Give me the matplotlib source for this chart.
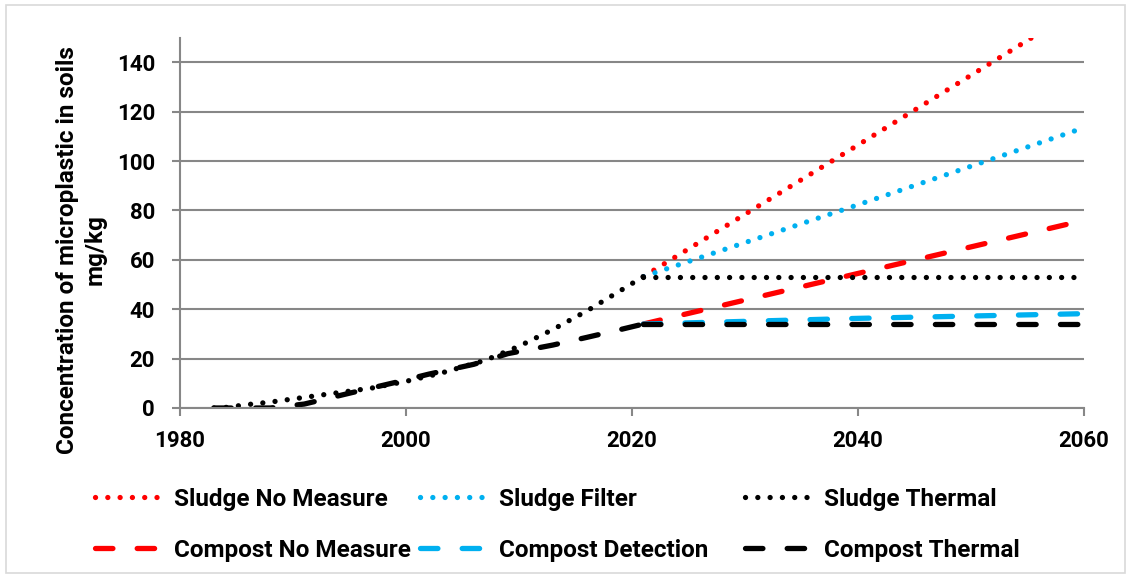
import matplotlib
matplotlib.use("Agg")
import matplotlib.pyplot as plt
from matplotlib.patches import Rectangle

# ---- data ----
sludge_hist_years = [1983, 1984, 1986, 1988, 1991, 1994, 1997, 2000, 2003, 2007, 2010, 2013, 2016, 2019, 2021]
sludge_hist = [0, 0.2, 1.4, 2.4, 4.3, 6.2, 8.1, 10.8, 14.0, 19.3, 25.0, 31.8, 39.3, 47.6, 53.2]

compost_hist_years = [1983, 1988, 1991, 1995, 1999, 2002, 2006, 2009, 2013, 2016, 2019, 2021]
compost_hist = [0, 0, 1.6, 6.0, 10.3, 13.7, 17.7, 22.0, 25.5, 28.6, 31.8, 34.0]

future_years = [2021, 2040, 2060]
sludge_no_measure = [53.2, 106.5, 163.0]
sludge_filter = [53.2, 82.3, 113.5]
sludge_thermal = [53.2, 53.2, 53.2]
compost_no_measure = [34.0, 54.5, 76.0]
compost_detection = [34.0, 36.3, 38.2]
compost_thermal = [34.0, 34.0, 34.0]

x_ticks = [1980, 2000, 2020, 2040, 2060]
y_ticks = [0, 20, 40, 60, 80, 100, 120, 140]

RED = "#FF0000"
BLUE = "#00B0F0"
BLACK = "#000000"
GRID = "#878787"

FONT = ["Roboto", "DejaVu Sans"]
plt.rcParams["font.family"] = FONT
plt.rcParams["font.weight"] = "bold"

fig = plt.figure(figsize=(11.31, 5.78), dpi=100)
W, H = 1131, 578
ax = fig.add_axes([180 / W, 1 - 408 / H, (1084 - 180) / W, (408 - 37.6) / H])

LW = 3.8
DOT = (0, (0.01, 2.32))
DASH = (0, (3.3, 4.6))

def dotted(x, y, c, label=None):
    return ax.plot(x, y, color=c, lw=LW, linestyle=DOT, dash_capstyle="round",
                   label=label)[0]

def dashed(x, y, c, label=None):
    return ax.plot(x, y, color=c, lw=LW, linestyle=DASH, dash_capstyle="round",
                   label=label)[0]

h_snm = dotted(future_years, sludge_no_measure, RED, "Sludge No Measure")
h_sf = dotted(future_years, sludge_filter, BLUE, "Sludge Filter")
h_cnm = dashed(future_years, compost_no_measure, RED, "Compost No Measure")
h_cd = dashed(future_years, compost_detection, BLUE, "Compost Detection")
h_ct = dashed(future_years, compost_thermal, BLACK, "Compost Thermal")
dashed(compost_hist_years, compost_hist, BLACK)
dotted(sludge_hist_years, sludge_hist, BLACK)
h_st = dotted(future_years, sludge_thermal, BLACK, "Sludge Thermal")

ax.set_xlim(1980, 2060)
ax.set_ylim(0, 150)
ax.set_xticks(x_ticks)
ax.set_yticks(y_ticks)
ax.grid(axis="y", color=GRID, lw=1.5)
ax.set_axisbelow(True)
for s in ["top", "right"]:
    ax.spines[s].set_visible(False)
for s in ["left", "bottom"]:
    ax.spines[s].set_color(GRID)
    ax.spines[s].set_linewidth(1.5)
ax.tick_params(axis="both", colors=GRID, width=1.5, length=6, labelsize=16,
               labelcolor="black", direction="out")
ax.tick_params(axis="y", pad=12)
ax.tick_params(axis="x", pad=10)
for lab in ax.get_xticklabels() + ax.get_yticklabels():
    lab.set_fontweight("bold")

fig.text(81 / W, 1 - 250 / H, "Concentration of microplastic in soils\nmg/kg",
         rotation=90, ha="center", va="center", multialignment="center",
         fontsize=17.5, fontweight="bold", linespacing=1.25)

# legend: three columns
cols = [([h_snm, h_cnm], 95), ([h_sf, h_cd], 420), ([h_st, h_ct], 745)]
for hs, x0 in cols:
    fig.legend(handles=hs, labels=[h.get_label() for h in hs],
               loc="upper left", bbox_to_anchor=(x0 / W, 1 - 488 / H),
               frameon=False, borderpad=0, borderaxespad=0,
               handlelength=3.0, handletextpad=0.25, labelspacing=1.15,
               prop={"family": FONT, "weight": "bold", "size": 17.5})

fig.patches.append(Rectangle((6 / W, 5 / H), 1 - 12 / W, 1 - 10 / H,
                             transform=fig.transFigure, fill=False,
                             edgecolor="#D9D9D9", lw=1.2))

fig.savefig("out.png", dpi=100)
